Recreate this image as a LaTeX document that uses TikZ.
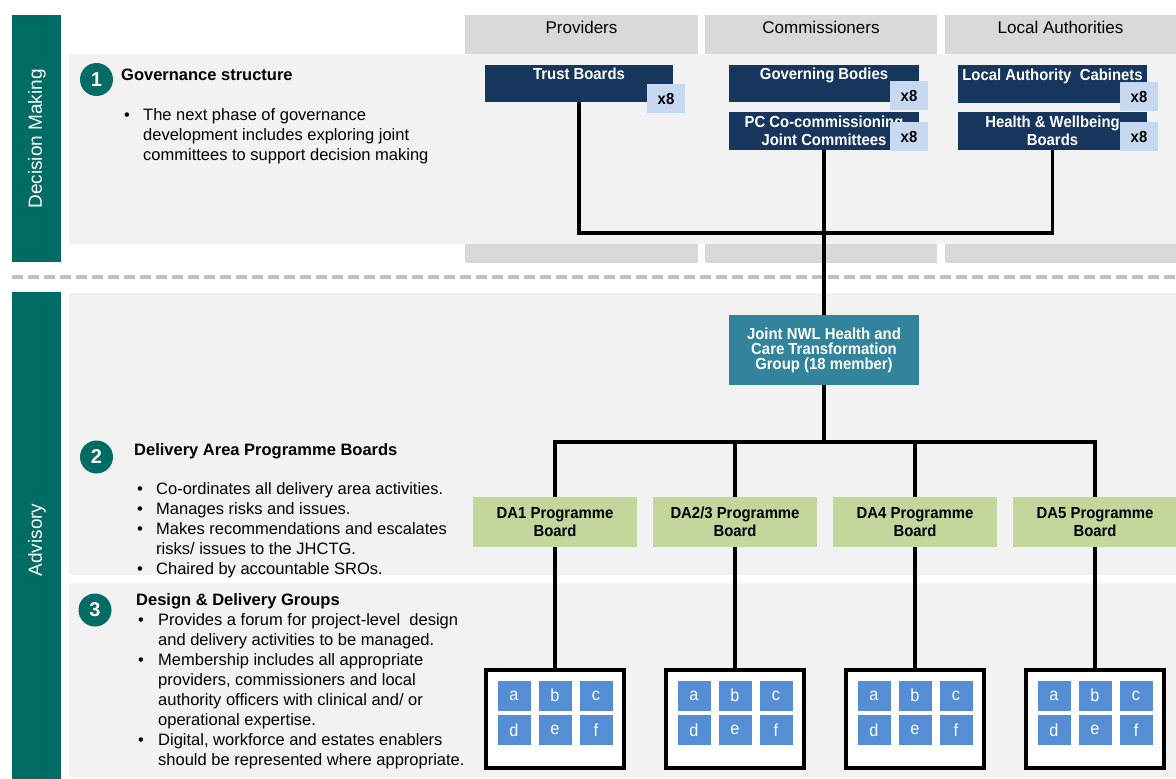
\documentclass[tikz,border=0pt]{standalone}
\usepackage{fontspec}
\setmainfont{Liberation Sans}
\newfontfamily\nb[FakeStretch=0.93]{Liberation Sans}
\definecolor{tealbar}{RGB}{0,108,100}
\definecolor{panelgray}{RGB}{242,242,242}
\definecolor{hdrgray}{RGB}{217,217,217}
\definecolor{navyc}{RGB}{23,54,93}
\definecolor{badgec}{RGB}{198,217,241}
\definecolor{jnwc}{RGB}{49,132,155}
\definecolor{dagreen}{RGB}{195,214,155}
\definecolor{sqblue}{RGB}{85,142,213}
\definecolor{dashgray}{RGB}{191,191,191}
\begin{document}
\begin{tikzpicture}[x=1pt,y=-1pt,
  hdr/.style={fill=hdrgray, inner sep=0pt, minimum width=233pt, text height=18pt, text depth=21pt, font=\fontsize{17}{20}\selectfont},
  navy/.style={fill=navyc, text=white, inner sep=0pt, align=center, font=\nb\bfseries\fontsize{16}{18}\selectfont},
  badge/.style={fill=badgec, inner sep=0pt, minimum width=38pt, minimum height=29pt, font=\nb\bfseries\fontsize{16}{18}\selectfont},
  jnw/.style={fill=jnwc, text=white, inner sep=0pt, align=center, minimum width=190pt, minimum height=70pt, font=\nb\bfseries\fontsize{16}{15}\selectfont},
  dabox/.style={fill=dagreen, inner sep=0pt, align=center, minimum width=164pt, minimum height=50pt, font=\nb\bfseries\fontsize{16}{18}\selectfont},
  ddg/.style={draw=black, line width=4pt, fill=white, inner sep=0pt, minimum width=138pt, minimum height=98pt},
  sq/.style={fill=sqblue, text=white, inner sep=0pt, minimum width=33pt, minimum height=30pt, font=\nb\fontsize{17.5}{18}\selectfont},
  conn/.style={draw=black, line width=3.5pt},
  num/.style={circle, fill=tealbar, text=white, inner sep=0pt, minimum size=33pt, font=\bfseries\fontsize{20}{22}\selectfont},
  sidelabel/.style={rotate=90, text=white, inner sep=0pt, font=\fontsize{19}{22}\selectfont},
  title/.style={anchor=base west, inner sep=0pt, font=\bfseries\fontsize{16.5}{20}\selectfont},
  bullets/.style={anchor=north west, inner sep=0pt, font=\fontsize{16.5}{20}\selectfont}
]
\useasboundingbox (0,0) rectangle (1176,779);
\fill[white] (0,0) rectangle (1176,779);

% side bars
\fill[tealbar] (12,15) rectangle (61,262);
\fill[tealbar] (12,292) rectangle (61,779);
\node[sidelabel] (dm) at (37,139) {Decision Making};
\node[sidelabel] (adv) at (37,540) {Advisory};

% panels
\fill[panelgray] (69,54) rectangle (1176,244);
\fill[panelgray] (69,293) rectangle (1176,575);
\fill[panelgray] (69,583) rectangle (1176,777);

% column headers
\node[hdr] (hprov) at (581.5,34.5) {Providers};
\node[hdr, minimum width=232pt] (hcomm) at (821,34.5) {Commissioners};
\node[hdr, minimum width=231pt] (hla) at (1060.5,34.5) {Local Authorities};
\fill[hdrgray] (465,244) rectangle (698,263);
\fill[hdrgray] (705,244) rectangle (937,263);
\fill[hdrgray] (945,244) rectangle (1176,263);

% dashed separator
\draw[dashgray, line width=3.5pt, dash pattern=on 11pt off 5pt] (12,277) -- (1176,277);

% section 1 text
\node[num] (n1) at (96.5,79.5) {1};
\node[title] (t1) at (121,80.5) {Governance structure};
\node[bullets] (b1) at (124,106.5) {\begin{tabular}{@{}p{19pt}@{}l@{}}
\textbullet & The next phase of governance\\
 & development includes exploring joint\\
 & committees to support decision making
\end{tabular}};

% section 2 text
\node[num] (n2) at (96.5,457) {2};
\node[title] (t2) at (134,455.5) {Delivery Area Programme Boards};
\node[bullets] (b2) at (137,480.5) {\begin{tabular}{@{}p{19pt}@{}l@{}}
\textbullet & Co-ordinates all delivery area activities.\\
\textbullet & Manages risks and issues.\\
\textbullet & Makes recommendations and escalates\\
 & risks/ issues to the JHCTG.\\
\textbullet & Chaired by accountable SROs.
\end{tabular}};

% section 3 text
\node[num] (n3) at (95,610) {3};
\node[title] (t3) at (136,605.5) {Design \& Delivery Groups};
\node[bullets] (b3) at (138,611.5) {\begin{tabular}{@{}p{20pt}@{}l@{}}
\textbullet & Provides a forum for project-level\ \ design\\
 & and delivery activities to be managed.\\
\textbullet & Membership includes all appropriate\\
 & providers, commissioners and local\\
 & authority officers with clinical and/ or\\
 & operational expertise.\\
\textbullet & Digital, workforce and estates enablers\\
 & should be represented where appropriate.
\end{tabular}};

% decision boxes
\node[navy, minimum width=188pt, text height=14.5pt, text depth=22.5pt] (tb) at (579,83.5) {Trust Boards};
\node[navy, minimum width=190pt, text height=14.5pt, text depth=22.5pt] (gb) at (824,83.5) {Governing Bodies};
\node[navy, minimum width=190pt, minimum height=38pt] (pc) at (824,131) {PC Co-commissioning\\Joint Committees};
\node[navy, minimum width=189pt, text height=15.5pt, text depth=22.5pt] (lac) at (1052.5,84) {Local Authority\ \ Cabinets};
\node[navy, minimum width=189pt, minimum height=38pt] (hw) at (1052.5,131) {Health \& Wellbeing\\Boards};

\node[badge] (xtb) at (666,98.5) {x8};
\node[badge] (xgb) at (909,95.5) {x8};
\node[badge] (xpc) at (909,136.5) {x8};
\node[badge] (xlac) at (1139,96.5) {x8};
\node[badge] (xhw) at (1139,136.5) {x8};

% JNWL group
\node[jnw] (jn) at (824,350) {Joint NWL Health and\\Care Transformation\\Group (18 member)};

% DA boards
\node[dabox] (da1) at (555,522) {DA1 Programme\\Board};
\node[dabox] (da23) at (735,522) {DA2/3 Programme\\Board};
\node[dabox] (da4) at (915,522) {DA4 Programme\\Board};
\node[dabox] (da5) at (1095,522) {DA5 Programme\\Board};

% DDG groups
\foreach \n/\cx in {1/555,2/735,3/915,4/1095}{
  \node[ddg] (g\n) at (\cx,719) {};
  \node[sq] (g\n a) at ({\cx-41},695.5) {a};
  \node[sq] (g\n b) at ({\cx},695.5) {b};
  \node[sq] (g\n c) at ({\cx+41},695.5) {c};
  \node[sq] (g\n d) at ({\cx-41},730) {d};
  \node[sq] (g\n e) at ({\cx},730) {e};
  \node[sq] (g\n f) at ({\cx+41},730) {f};
}

% connectors
\coordinate (jtop) at (824,233);
\coordinate (jmid) at (824,442);
\draw[conn] (tb.south) |- (jtop) -| (hw.south);
\draw[conn] (pc.south) -- (jn.north);
\draw[conn] (jn.south) -- (jmid);
\draw[conn] (da1.north) |- (jmid) -| (da5.north);
\draw[conn] (da23.north) -- (da23.north |- jmid);
\draw[conn] (da4.north) -- (da4.north |- jmid);
\draw[conn] (da1.south) -- (g1.north);
\draw[conn] (da23.south) -- (g2.north);
\draw[conn] (da4.south) -- (g3.north);
\draw[conn] (da5.south) -- (g4.north);
\end{tikzpicture}
\end{document}
